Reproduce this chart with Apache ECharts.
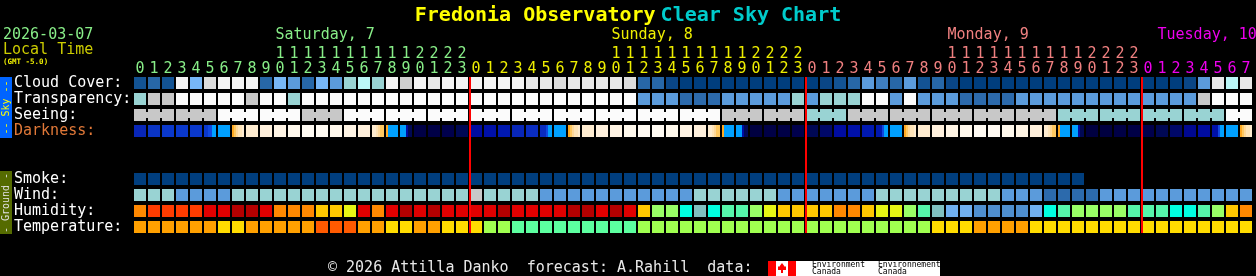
<!DOCTYPE html>
<html><head><meta charset="utf-8">
<script src="https://cdn.jsdelivr.net/npm/echarts@6/dist/echarts.min.js"></script>
<style>html,body{margin:0;padding:0;background:#000;}#c{width:1256px;height:276px;}</style>
</head><body><div id="c"></div>
<script>
// ---------- data ----------
const HOURS = [0,1,2,3,4,5,6,7,8,9,10,11,12,13,14,15,16,17,18,19,20,21,22,23,
               0,1,2,3,4,5,6,7,8,9,10,11,12,13,14,15,16,17,18,19,20,21,22,23,
               0,1,2,3,4,5,6,7,8,9,10,11,12,13,14,15,16,17,18,19,20,21,22,23,
               0,1,2,3,4,5,6,7];
const DAY_NAMES = ['Saturday, 7','Sunday, 8','Monday, 9','Tuesday, 10'];
const DAY_LABEL_AT = [10,34,58,73];
const MIDNIGHTS = [24,48,72];
const ROW_LABELS = ['Cloud Cover:','Transparency:','Seeing:','Darkness:',' ','  ','Smoke:','Wind:','Humidity:','Temperature:'];

const CLOUD = [2,3,2,12,6,10,12,12,12,3,6,5,3,6,5,7,8,7,12,9,12,11,12,12,
               12,12,12,12,11,11,10,11,11,11,11,10,3,3,1,0,0,0,0,0,0,0,0,0,
               0,1,2,3,5,4,3,5,2,3,1,0,0,0,0,0,0,0,0,0,0,0,0,0,
               0,0,0,1,5,11,8,11];
const TRANSPARENCY = [3,4,4,5,5,5,5,5,4,5,5,3,5,5,5,5,5,5,5,5,5,5,5,5,
                      5,5,5,5,5,5,5,5,5,5,5,5,2,2,2,1,1,1,2,2,2,2,2,3,
                      2,3,3,3,5,5,2,5,2,2,2,1,1,1,1,2,2,2,2,2,2,2,2,2,
                      2,2,2,2,4,5,5,5];
// seeing: one value per 3-hour block
const SEEING = [4,4,5,5,4,5,5,5, 5,5,5,5,5,5,4,4, 3,4,4,4,4,4,3,3, 3,3,5];
// darkness: one level per hour, twilight hours split in 10-minute steps
const DARKNESS = [
  9,11,12,12,12,[12,12,13,13,14,14],14,[15,16,17,18,18,19],19,20,21,22,23,23,22,21,20,[19,19,18,17,16,16],[15,14,14,14,14,14],[14,14,14,6,3,3],1,1,2,3,
  6,7,8,9,10,[10,10,10,13,14,14],14,[15,16,17,18,18,19],19,20,21,22,23,23,22,21,20,[19,19,18,17,16,16],[15,14,14,14,14,14],[14,14,14,6,3,3],0,1,1,2,
  3,4,6,7,8,[8,8,8,13,14,14],14,[15,16,17,18,18,19],19,20,21,22,23,23,22,21,20,[19,19,18,17,16,16],[15,14,14,14,14,14],[14,14,14,6,3,3],0,0,1,1,
  2,3,4,5,6,[7,7,7,13,14,14],14,[15,16,17,18,18,19]
];
const SMOKE = [0,0,0,0,0,0,0,0,0,0,0,0,0,0,0,0,0,0,0,0,0,0,0,0,
               0,0,0,0,0,0,0,0,0,0,0,0,0,0,0,0,0,0,0,0,0,0,0,0,
               0,0,0,0,0,0,0,0,0,0,0,0,0,0,0,0,0,0,0,0,null,null,null,null,
               null,null,null,null,null,null,null,null];
const WIND = [3,3,3,2,2,2,2,3,3,3,3,3,3,3,3,3,3,3,3,3,3,3,3,3,
              4,3,3,3,3,2,2,2,2,2,2,2,2,2,2,2,3,3,3,3,3,3,2,2,
              2,2,2,2,2,3,3,3,3,3,3,3,3,3,2,2,2,1,1,1,1,2,2,2,
              2,2,2,2,2,2,2,2];
const HUMIDITY = [8,9,9,9,9,10,10,11,11,10,8,8,8,7,7,6,10,8,10,11,10,11,10,10,
                  10,10,11,10,10,10,10,11,11,10,11,10,7,5,5,3,2,3,4,4,5,6,7,7,
                  7,7,8,8,7,6,6,5,4,2,1,1,0,0,0,0,1,3,4,5,5,5,5,4,
                  4,4,3,3,4,5,7,8];
const TEMPERATURE = [3,3,3,3,3,3,2,2,3,3,3,3,3,4,4,4,3,3,2,2,3,3,2,2,
                     2,1,1,0,0,0,0,0,0,0,0,0,1,1,1,1,1,1,1,1,1,1,1,1,
                     1,1,1,1,1,1,1,1,1,2,2,2,3,3,3,3,2,2,2,2,2,2,2,2,
                     2,2,2,2,2,2,2,2];

// ---------- styles ----------
const FONT = "'DejaVu Sans Mono', monospace";
const DAY_COLORS = ['#88ee88','#eeee00','#f08080','#ee00ee'];
const CLOUD_COLORS = ['#003e7e','#0a4686','#135393','#2767a7','#3f7fc0','#5b9bdb','#77b7f7','#99d3d3','#bbf7f7','#cfcfcf','#dcdcdc','#e8e8e8','#f4f4f4'];
const SKY_COLORS = ['#003e7e','#2c6aac','#5b9bdb','#99d3d3','#c8c8c8','#fbfbfb'];
const DARK_COLORS = ['#000040','#000046','#00004c','#000854','#000868','#000890','#000ca0','#0010a8','#0018b0','#0826b8','#0a2cc0','#0a34c4','#0a38cc','#1048e0','#00a0ff',
                     '#ffa820','#ffc860','#ffd898','#ffe4b8','#ffecd0','#fff0dc','#fff4e4','#fff8ec','#fffaf2'];
const SMOKE_COLORS = ['#003e7e'];
const HUM_COLORS = ['#4f8fcf','#70b0f0','#80c0c0','#00ffe0','#55f5aa','#99ff66','#e6f514','#ffc800','#ff8800','#ff3c00','#e00000','#b40000'];
const TEMP_COLORS = ['#5cffa0','#a0ff50','#ffdc00','#ffa000','#ff5a00'];

const DAY_OF = (() => { let d = -1; return HOURS.map(h => { if (h === 0) d++; return d; }); })();
const CATS = HOURS.map((h, i) => DAY_OF[i] + ':' + h);

function cellBox(api, x, y) {
  const c = api.coord([x, y]);
  const sz = api.size([1, 1]);
  const w = sz[0] - 2, h = sz[1] - 4;
  return { cx: c[0], cy: c[1], w, h, x: c[0] - w / 2, y: c[1] - h / 2 };
}

function simpleSeries(row, values, palette) {
  const data = [];
  values.forEach((v, i) => { if (v !== null) data.push([i, row, v]); });
  return {
    type: 'custom', data, encode: { x: 0, y: 1 }, silent: true, animation: false,
    renderItem: (p, api) => {
      const b = cellBox(api, api.value(0), api.value(1));
      return { type: 'rect', shape: { x: b.x, y: b.y, width: b.w, height: b.h }, style: { fill: palette[api.value(2)] } };
    }
  };
}

function darknessSeries(row) {
  const data = [];
  DARKNESS.forEach((v, i) => {
    if (Array.isArray(v)) v.forEach((s, k) => data.push([i, row, s, k, v.length]));
    else data.push([i, row, v, 0, 1]);
  });
  return {
    type: 'custom', data, encode: { x: 0, y: 1 }, silent: true, animation: false,
    renderItem: (p, api) => {
      const b = cellBox(api, api.value(0), api.value(1));
      const n = api.value(4), k = api.value(3);
      return { type: 'rect', shape: { x: b.x + b.w * k / n, y: b.y, width: b.w / n, height: b.h }, style: { fill: DARK_COLORS[api.value(2)] } };
    }
  };
}

function seeingSeries(row) {
  const data = SEEING.map((v, j) => [j * 3, row, v, Math.min(3, HOURS.length - j * 3)]);
  return {
    type: 'custom', data, encode: { x: 0, y: 1 }, silent: true, animation: false,
    renderItem: (p, api) => {
      const start = api.value(0), span = api.value(3);
      const fill = SKY_COLORS[api.value(2)];
      const children = [];
      const first = cellBox(api, start, api.value(1));
      const last = cellBox(api, start + span - 1, api.value(1));
      for (let k = 0; k < span; k++) {
        const b = cellBox(api, start + k, api.value(1));
        children.push({ type: 'rect', shape: { x: b.x, y: b.y, width: b.w, height: b.h }, style: { fill } });
      }
      children.push({ type: 'rect', shape: { x: first.x, y: first.cy - 3, width: last.x + last.w - first.x, height: 6 }, style: { fill } });
      return { type: 'group', children };
    }
  };
}

const midnightSeries = {
  type: 'custom', data: MIDNIGHTS.map(m => [m, 0]), encode: { x: 0, y: 1 }, silent: true, animation: false, z: 5,
  renderItem: (p, api) => {
    const top = cellBox(api, api.value(0), 0);
    const bot = cellBox(api, api.value(0), 9);
    const sz = api.size([1, 1]);
    return { type: 'rect', shape: { x: top.cx - sz[0] / 2, y: top.y, width: 2, height: bot.y + bot.h - top.y }, style: { fill: '#ff0000' } };
  }
};

const rich = {};
DAY_COLORS.forEach((c, d) => { rich['c' + d] = { color: c, fontFamily: FONT, fontSize: 15, lineHeight: 15 }; });

const chart = echarts.init(document.getElementById('c'));
chart.setOption({
  backgroundColor: '#000',
  animation: false,
  title: {
    text: '{a|Fredonia Observatory} {b|Clear Sky Chart}', left: 'center', top: 1,
    textStyle: { rich: {
      a: { color: '#ffff00', fontFamily: FONT, fontSize: 20, fontWeight: 'bold' },
      b: { color: '#00cccc', fontFamily: FONT, fontSize: 20, fontWeight: 'bold' } } }
  },
  grid: { left: 133, top: 75, width: 1120, height: 160 },
  xAxis: {
    type: 'category', data: CATS, position: 'top',
    axisLine: { show: false }, axisTick: { show: false }, splitLine: { show: false },
    axisLabel: {
      interval: 0, margin: -2, fontFamily: FONT, fontSize: 15, rich,
      formatter: (v, i) => {
        const h = HOURS[i], d = DAY_OF[i];
        return h >= 10 ? `{c${d}|${Math.floor(h / 10)}}\n{c${d}|${h % 10}}` : `{c${d}|${h}}`;
      }
    }
  },
  yAxis: {
    type: 'category', data: ROW_LABELS, inverse: true,
    axisLine: { show: false }, axisTick: { show: false }, splitLine: { show: false },
    axisLabel: { interval: 0, align: 'left', margin: 119, fontFamily: FONT, fontSize: 15,
      color: (v, i) => (v === 'Darkness:' ? '#e07838' : '#ffffff') }
  },
  series: [
    simpleSeries(0, CLOUD, CLOUD_COLORS),
    simpleSeries(1, TRANSPARENCY, SKY_COLORS),
    seeingSeries(2),
    darknessSeries(3),
    simpleSeries(6, SMOKE, SMOKE_COLORS),
    simpleSeries(7, WIND, SKY_COLORS),
    simpleSeries(8, HUMIDITY, HUM_COLORS),
    simpleSeries(9, TEMPERATURE, TEMP_COLORS),
    midnightSeries
  ]
});

const g = [
  { type: 'text', x: 3, y: 35, style: { text: '2026-03-07', fill: '#88ee88', font: `15px ${FONT}`, textVerticalAlign: 'middle' } },
  { type: 'text', x: 3, y: 50, style: { text: 'Local Time', fill: '#cccc00', font: `15px ${FONT}`, textVerticalAlign: 'middle' } },
  { type: 'text', x: 3, y: 62, style: { text: '(GMT -5.0)', fill: '#eeee00', font: `bold 7.5px ${FONT}`, textVerticalAlign: 'middle' } },
  { type: 'rect', shape: { x: 0, y: 77, width: 12, height: 61 }, style: { fill: '#0064ff' } },
  { type: 'text', x: 6.5, y: 107.5, rotation: Math.PI / 2, style: { text: '-- Sky --', fill: '#ffff00', font: `10px ${FONT}`, textAlign: 'center', textVerticalAlign: 'middle' } },
  { type: 'rect', shape: { x: 0, y: 171, width: 12, height: 63 }, style: { fill: '#556b00' } },
  { type: 'text', x: 6.5, y: 203, rotation: Math.PI / 2, style: { text: '- Ground -', fill: '#e0e0e0', font: `10px ${FONT}`, textAlign: 'center', textVerticalAlign: 'middle' } },
  { type: 'text', x: 328, y: 268, style: { text: '\u00a9 2026 Attilla Danko  forecast: A.Rahill  data:', fill: '#e8e8e8', font: `15px ${FONT}`, textVerticalAlign: 'middle' } },
  { type: 'rect', shape: { x: 768, y: 261, width: 28, height: 15 }, style: { fill: '#ff0000' } },
  { type: 'rect', shape: { x: 776, y: 261, width: 12, height: 15 }, style: { fill: '#ffffff' } },
  { type: 'polygon', shape: { points: [[782, 263], [785, 267], [786, 266], [786, 270], [783, 270], [783, 273], [781, 273], [781, 270], [778, 270], [778, 266], [779, 267]] }, style: { fill: '#ff0000' } },
  { type: 'rect', shape: { x: 796, y: 261, width: 144, height: 15 }, style: { fill: '#ffffff' } },
  { type: 'text', x: 812, y: 265, style: { text: 'Environment', fill: '#000', font: `8px ${FONT}`, textVerticalAlign: 'middle' } },
  { type: 'text', x: 812, y: 272, style: { text: 'Canada', fill: '#000', font: `8px ${FONT}`, textVerticalAlign: 'middle' } },
  { type: 'text', x: 878, y: 265, style: { text: 'Environnement', fill: '#000', font: `8px ${FONT}`, textVerticalAlign: 'middle' } },
  { type: 'text', x: 878, y: 272, style: { text: 'Canada', fill: '#000', font: `8px ${FONT}`, textVerticalAlign: 'middle' } }
];
DAY_NAMES.forEach((name, d) => {
  const px = chart.convertToPixel({ xAxisIndex: 0 }, DAY_LABEL_AT[d]);
  g.push({ type: 'text', x: px - 4.5, y: 35, style: { text: name, fill: DAY_COLORS[d], font: `15px ${FONT}`, textVerticalAlign: 'middle' } });
});
chart.setOption({ graphic: g });
</script>
</body></html>
